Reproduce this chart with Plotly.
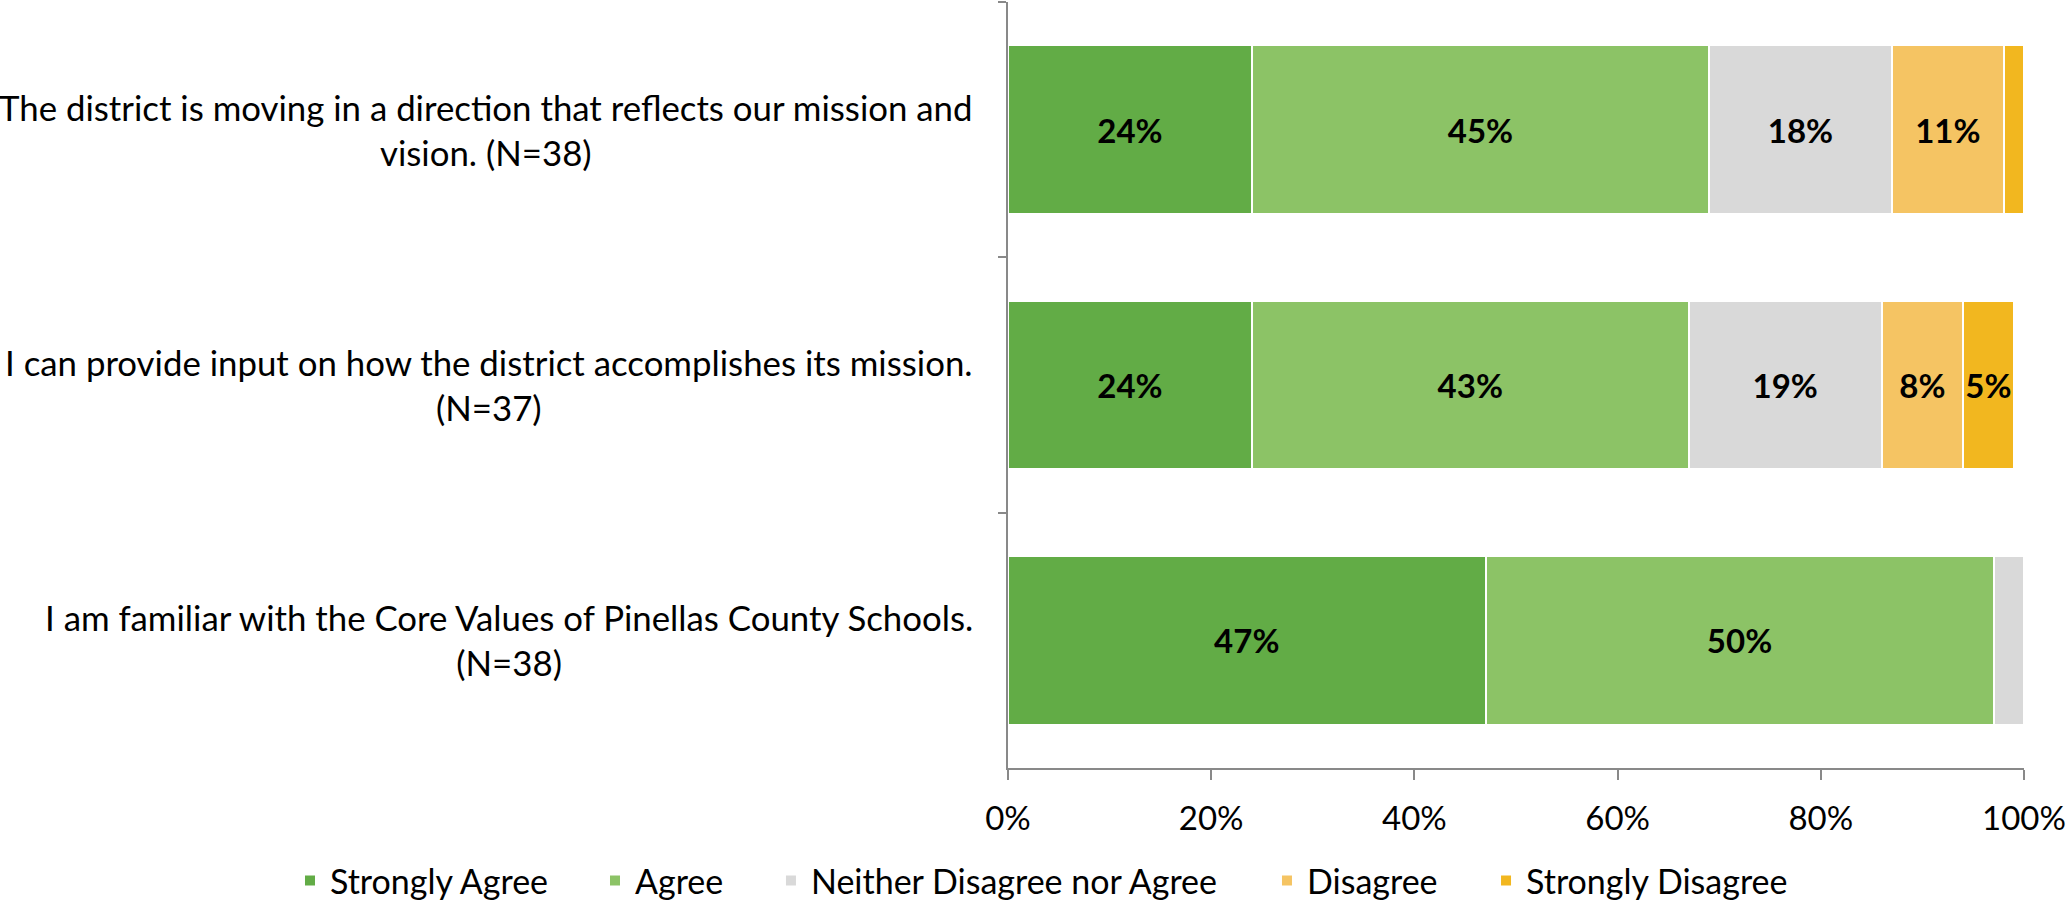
import plotly.graph_objects as go

categories = [
    "The district is moving in a direction that reflects our mission and<br>vision. (N=38)",
    "I can provide input on how the district accomplishes its mission.<br>(N=37)",
    "I am familiar with the Core Values of Pinellas County Schools.<br>(N=38)",
]
series_names = ["Strongly Agree", "Agree", "Neither Disagree nor Agree", "Disagree", "Strongly Disagree"]
strongly_agree = [24, 24, 47]
agree = [45, 43, 50]
neither = [18, 19, 3]
disagree = [11, 8, 0]
strongly_disagree = [2, 5, 0]
colors = ["#62AC46", "#8CC366", "#D9D9D9", "#F5C463", "#F2B71F"]
x_ticks = [0, 20, 40, 60, 80, 100]
x_tick_labels = ["0%", "20%", "40%", "60%", "80%", "100%"]

FONT = "Lato, 'Open Sans', sans-serif"
# legend entry left edges (paper x) so entries are spaced like the reference
legend_x = [-0.7067, -0.4065, -0.2333, 0.2549, 0.4705]
legend_ids = ["legend", "legend2", "legend3", "legend4", "legend5"]

fig = go.Figure()
for name, vals, col, lid in zip(series_names,
                                [strongly_agree, agree, neither, disagree, strongly_disagree],
                                colors, legend_ids):
    labels = [f"{v}%" if v >= 4 else "" for v in vals]
    fig.add_trace(go.Bar(
        y=categories, x=vals, name=name, orientation="h", legend=lid,
        marker=dict(color=col, line=dict(color="white", width=2)),
        text=labels, texttemplate="%{text}", textposition="inside",
        insidetextanchor="middle", textangle=0, constraintext="none",
        textfont=dict(family=FONT, size=33, color="black", weight="bold"),
        hoverinfo="x+name",
    ))

for c in categories:
    fig.add_annotation(
        x=-0.0325, xref="paper", y=c, yref="y", text=c, showarrow=False,
        xanchor="right", yanchor="middle", align="center",
        font=dict(family=FONT, size=34.8, color="black"),
    )

legend_common = dict(orientation="h", xref="paper", yref="paper", y=-0.1475,
                     xanchor="left", yanchor="middle", font=dict(size=34),
                     itemwidth=30, bgcolor="rgba(0,0,0,0)")
legends = {lid: dict(x=lx, **legend_common) for lid, lx in zip(legend_ids, legend_x)}

fig.update_layout(
    barmode="stack", bargap=0.34,
    width=2066, height=904,
    margin=dict(l=1008, r=42, t=2, b=136, autoexpand=False),
    plot_bgcolor="white", paper_bgcolor="white",
    font=dict(family=FONT, size=34, color="black"),
    showlegend=True,
    xaxis=dict(range=[0, 100], tickvals=x_ticks, ticktext=x_tick_labels,
               showgrid=False, zeroline=False, showline=True,
               linecolor="#898989", linewidth=2, ticks="outside",
               ticklen=10, tickcolor="#898989", tickwidth=2,
               ticklabelstandoff=10,
               tickfont=dict(size=33), fixedrange=True),
    yaxis=dict(autorange="reversed", showticklabels=False, showgrid=False,
               showline=True, linecolor="#898989", linewidth=2,
               ticks="outside", tickson="boundaries", ticklen=8,
               tickcolor="#898989", tickwidth=2, fixedrange=True),
    **legends,
)

fig.write_html("out.html", config={"displayModeBar": False},
               post_script="document.body.style.margin='0';document.body.style.overflow='hidden';")
